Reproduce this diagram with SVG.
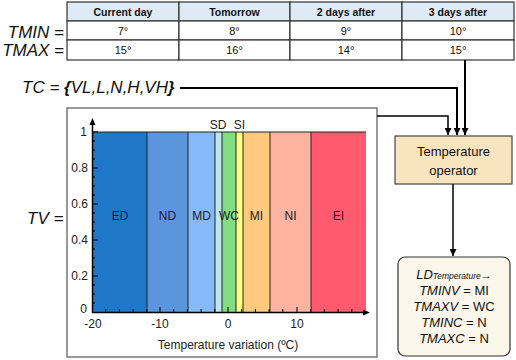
<svg xmlns="http://www.w3.org/2000/svg" width="516" height="360" viewBox="0 0 516 360">
<style>
text{font-family:"Liberation Sans",Arial,sans-serif;fill:#111}
.hd{font-size:10.5px;font-weight:bold;text-anchor:middle}
.cv{font-size:11px;text-anchor:middle}
.big{font-size:17px;font-style:italic}
.tk{font-size:12px;fill:#222}
.rl{font-size:12px;text-anchor:middle;fill:#222}
.cell{fill:#fff;stroke:#333;stroke-width:1.2}
.hcell{fill:#deebf7;stroke:#333;stroke-width:1.2}
.bd{stroke:#222;stroke-width:1}
.conn{fill:none;stroke:#000}
.lbl{font-size:13px;text-anchor:middle}
</style>
<defs>
<marker id="ah" viewBox="0 0 10 10" refX="10" refY="5" markerWidth="7" markerHeight="7" markerUnits="userSpaceOnUse" orient="auto"><path d="M0,0L10,5L0,10Z" fill="#000"/></marker>
</defs>

<g id="table">
<rect class="hcell" x="67" y="2" width="112" height="19"/>
<rect class="hcell" x="179" y="2" width="111" height="19"/>
<rect class="hcell" x="290" y="2" width="112" height="19"/>
<rect class="hcell" x="402" y="2" width="112" height="19"/>
<rect class="cell" x="67" y="21" width="112" height="19"/>
<rect class="cell" x="179" y="21" width="111" height="19"/>
<rect class="cell" x="290" y="21" width="112" height="19"/>
<rect class="cell" x="402" y="21" width="112" height="19"/>
<rect class="cell" x="67" y="40" width="112" height="20"/>
<rect class="cell" x="179" y="40" width="111" height="20"/>
<rect class="cell" x="290" y="40" width="112" height="20"/>
<rect class="cell" x="402" y="40" width="112" height="20"/>
<text class="hd" x="123" y="15.5">Current day</text>
<text class="hd" x="234.5" y="15.5">Tomorrow</text>
<text class="hd" x="346" y="15.5">2 days after</text>
<text class="hd" x="458" y="15.5">3 days after</text>
<text class="cv" x="123" y="34.5">7°</text>
<text class="cv" x="234.5" y="34.5">8°</text>
<text class="cv" x="346" y="34.5">9°</text>
<text class="cv" x="458" y="34.5">10°</text>
<text class="cv" x="123" y="54">15°</text>
<text class="cv" x="234.5" y="54">16°</text>
<text class="cv" x="346" y="54">14°</text>
<text class="cv" x="458" y="54">15°</text>
</g>

<g id="labels">
<text class="big" x="64" y="38" text-anchor="end" font-size="16.5px">TMIN =</text>
<text class="big" x="64" y="56" text-anchor="end" font-size="16.5px">TMAX =</text>
<text class="big" x="22" y="93">TC = <tspan font-weight="bold">{</tspan>VL,L,N,H,VH<tspan font-weight="bold">}</tspan></text>
<text class="big" x="27" y="224">TV =</text>
</g>

<g id="chart">
<rect x="67" y="108" width="310" height="249" fill="#fff" stroke="#777" stroke-width="1.5"/>
<rect x="92" y="132" width="55" height="180" fill="#1f77c9"/>
<rect x="147" y="132" width="41" height="180" fill="#5b96dc"/>
<rect x="188" y="132" width="27" height="180" fill="#85b9f8"/>
<rect x="215" y="132" width="7" height="180" fill="#bde6f0"/>
<rect x="222" y="132" width="14" height="180" fill="#80dd80"/>
<rect x="236" y="132" width="7" height="180" fill="#ffff80"/>
<rect x="243" y="132" width="27" height="180" fill="#ffc980"/>
<rect x="270" y="132" width="41" height="180" fill="#ffb3a1"/>
<rect x="311" y="132" width="55" height="180" fill="#ff5a6e"/>
<line class="bd" x1="92" y1="132" x2="366" y2="132"/>
<line class="bd" x1="147" y1="132" x2="147" y2="312"/>
<line class="bd" x1="188" y1="132" x2="188" y2="312"/>
<line class="bd" x1="215" y1="132" x2="215" y2="312"/>
<line class="bd" x1="222" y1="132" x2="222" y2="312"/>
<line class="bd" x1="236" y1="132" x2="236" y2="312" stroke="#553"/>
<line class="bd" x1="243" y1="132" x2="243" y2="312" stroke="#553"/>
<line class="bd" x1="270" y1="132" x2="270" y2="312" stroke="#432"/>
<line class="bd" x1="311" y1="132" x2="311" y2="312" stroke="#432"/>
<line x1="92.5" y1="313" x2="92.5" y2="124" stroke="#000" stroke-width="1.5"/>
<path d="M92.5,118L89.5,125L95.5,125Z" fill="#000"/>
<line x1="92" y1="312.5" x2="364" y2="312.5" stroke="#000" stroke-width="1.5"/>
<path d="M370,312.5L363,309.5L363,315.5Z" fill="#000"/>
<path stroke="#000" stroke-width="1" fill="none" d="M92,132h6M92,168h6M92,204h6M92,240h6M92,276h6M92,141h3M92,150h3M92,159h3M92,177h3M92,186h3M92,195h3M92,213h3M92,222h3M92,231h3M92,249h3M92,258h3M92,267h3M92,285h3M92,294h3M92,303h3"/>
<path stroke="#000" stroke-width="1" fill="none" d="M160,312v-5M228,312v-5M297,312v-5M105.7,312v-3M119.4,312v-3M133.1,312v-3M146.8,312v-3M173.7,312v-3M187.4,312v-3M201.1,312v-3M214.8,312v-3M241.7,312v-3M255.4,312v-3M269.1,312v-3M282.8,312v-3M310.7,312v-3M324.4,312v-3M338.1,312v-3M351.8,312v-3"/>
<text class="tk" x="87" y="136" text-anchor="end">1</text>
<text class="tk" x="88" y="172" text-anchor="end">0.8</text>
<text class="tk" x="88" y="208" text-anchor="end">0.6</text>
<text class="tk" x="88" y="244" text-anchor="end">0.4</text>
<text class="tk" x="88" y="280" text-anchor="end">0.2</text>
<text class="tk" x="87" y="313" text-anchor="end">0</text>
<text class="tk" x="93" y="328" text-anchor="middle">-20</text>
<text class="tk" x="160" y="328" text-anchor="middle">-10</text>
<text class="tk" x="228" y="328" text-anchor="middle">0</text>
<text class="tk" x="297" y="328" text-anchor="middle">10</text>
<text class="tk" x="228" y="349" text-anchor="middle">Temperature variation (ºC)</text>
<text class="rl" x="120" y="220">ED</text>
<text class="rl" x="167.5" y="220">ND</text>
<text class="rl" x="201.5" y="220">MD</text>
<text class="rl" x="229" y="220">WC</text>
<text class="rl" x="256.5" y="220">MI</text>
<text class="rl" x="290.5" y="220">NI</text>
<text class="rl" x="338.5" y="220">EI</text>
<text class="rl" x="218" y="129">SD</text>
<text class="rl" x="239.5" y="129">SI</text>
</g>

<g id="operator">
<rect x="395" y="136" width="117" height="48" fill="#f9e4c0" stroke="#444" stroke-width="1.2"/>
<text class="lbl" x="453.5" y="156" font-size="14.5px">Temperature</text>
<text class="lbl" x="453.5" y="175" font-size="14.5px">operator</text>
</g>

<g id="result">
<rect x="398" y="257" width="112" height="99" rx="7" fill="#fdf6ea" stroke="#333" stroke-width="1.2"/>
<text class="lbl" x="454" y="279"><tspan font-style="italic">LD</tspan><tspan font-style="italic" font-size="8.5px">Temperature</tspan><tspan font-size="11px">→</tspan></text>
<text class="lbl" x="454" y="295"><tspan font-style="italic">TMINV</tspan> = MI</text>
<text class="lbl" x="454" y="311"><tspan font-style="italic">TMAXV</tspan> = WC</text>
<text class="lbl" x="454" y="327"><tspan font-style="italic">TMINC</tspan> = N</text>
<text class="lbl" x="454" y="343"><tspan font-style="italic">TMAXC</tspan> = N</text>
</g>

<g id="connectors">
<polyline class="conn" stroke-width="2" points="180,88 457,88 457,135" marker-end="url(#ah)"/>
<polyline class="conn" stroke-width="2" points="465,60 465,135" marker-end="url(#ah)"/>
<polyline class="conn" stroke-width="1.5" points="377,116 448,116 448,135" marker-end="url(#ah)"/>
<polyline class="conn" stroke-width="1.5" points="453,184 453,256" marker-end="url(#ah)"/>
</g>
</svg>
